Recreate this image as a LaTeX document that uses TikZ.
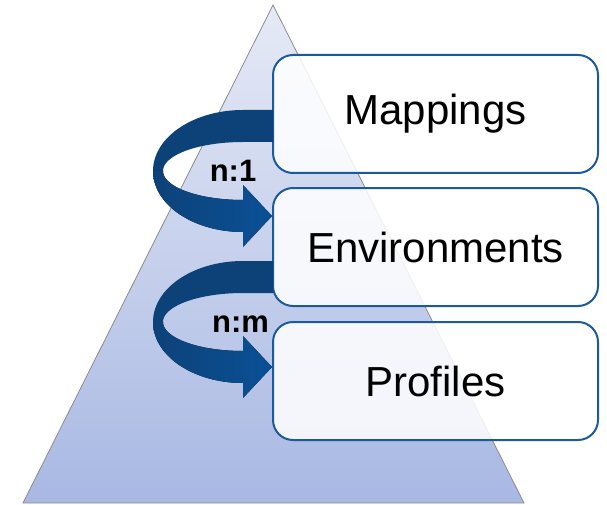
\documentclass[tikz,border=0pt]{standalone}
\usepackage{fontspec}
\setmainfont{Liberation Sans}
\definecolor{triTop}{HTML}{E6EAF6}
\definecolor{triBottom}{HTML}{A8B8E3}
\definecolor{boxLine}{HTML}{1C5A9A}
\definecolor{ribbonBack}{HTML}{0D4279}
\definecolor{ribbonFront}{HTML}{0A5096}
\tikzset{
  layerbox/.style={draw=boxLine, line width=2pt, rounded corners=20pt,
    fill=white, fill opacity=0.86, text opacity=1,
    minimum width=325pt, minimum height=118pt,
    font=\fontsize{42}{50}\selectfont},
  ratio/.style={font=\bfseries\fontsize{31}{36}\selectfont, anchor=base},
  % curved ribbon arrow: origin is the centre of the ellipse it turns on
  ribbon/.pic={
    \fill[ribbonBack] (30,-61) -- (0,-61)
      -- plot[domain=270:180, samples=50] ({90*cos(\x)},{61*sin(\x)})
      -- plot[domain=180:270, samples=50] ({80*cos(\x)},{29*sin(\x)})
      -- (30,-29) -- cycle;
    \fill[left color=ribbonBack, right color=ribbonFront]
      plot[domain=180:90, samples=50] ({90*cos(\x)},{61*sin(\x)})
      -- (0,76) -- (29,45) -- (0,14) -- (0,29)
      -- plot[domain=90:180, samples=50] ({80*cos(\x)},{29*sin(\x)})
      -- cycle;
  }
}
\begin{document}
\begin{tikzpicture}[x=1pt, y=-1pt]
  \useasboundingbox (0,0) rectangle (607,505);

  % pyramid
  \draw[draw=gray!90, line width=0.8pt, top color=triTop, bottom color=triBottom]
    (273,5) -- (524,503) -- (23,503) -- cycle;

  % layers
  \node[layerbox] (map) at (435.5,114) {Mappings};
  \node[layerbox] (env) at (435.5,247) {Environments};
  \node[layerbox] (prof) at (435.5,381) {Profiles};

  % relations between layers
  \pic at (243,171) {ribbon};
  \pic at (243,322) {ribbon};

  \node[ratio] (r1) at (233,182) {n:1};
  \node[ratio] (r2) at (240.5,332) {n:m};
\end{tikzpicture}
\end{document}
